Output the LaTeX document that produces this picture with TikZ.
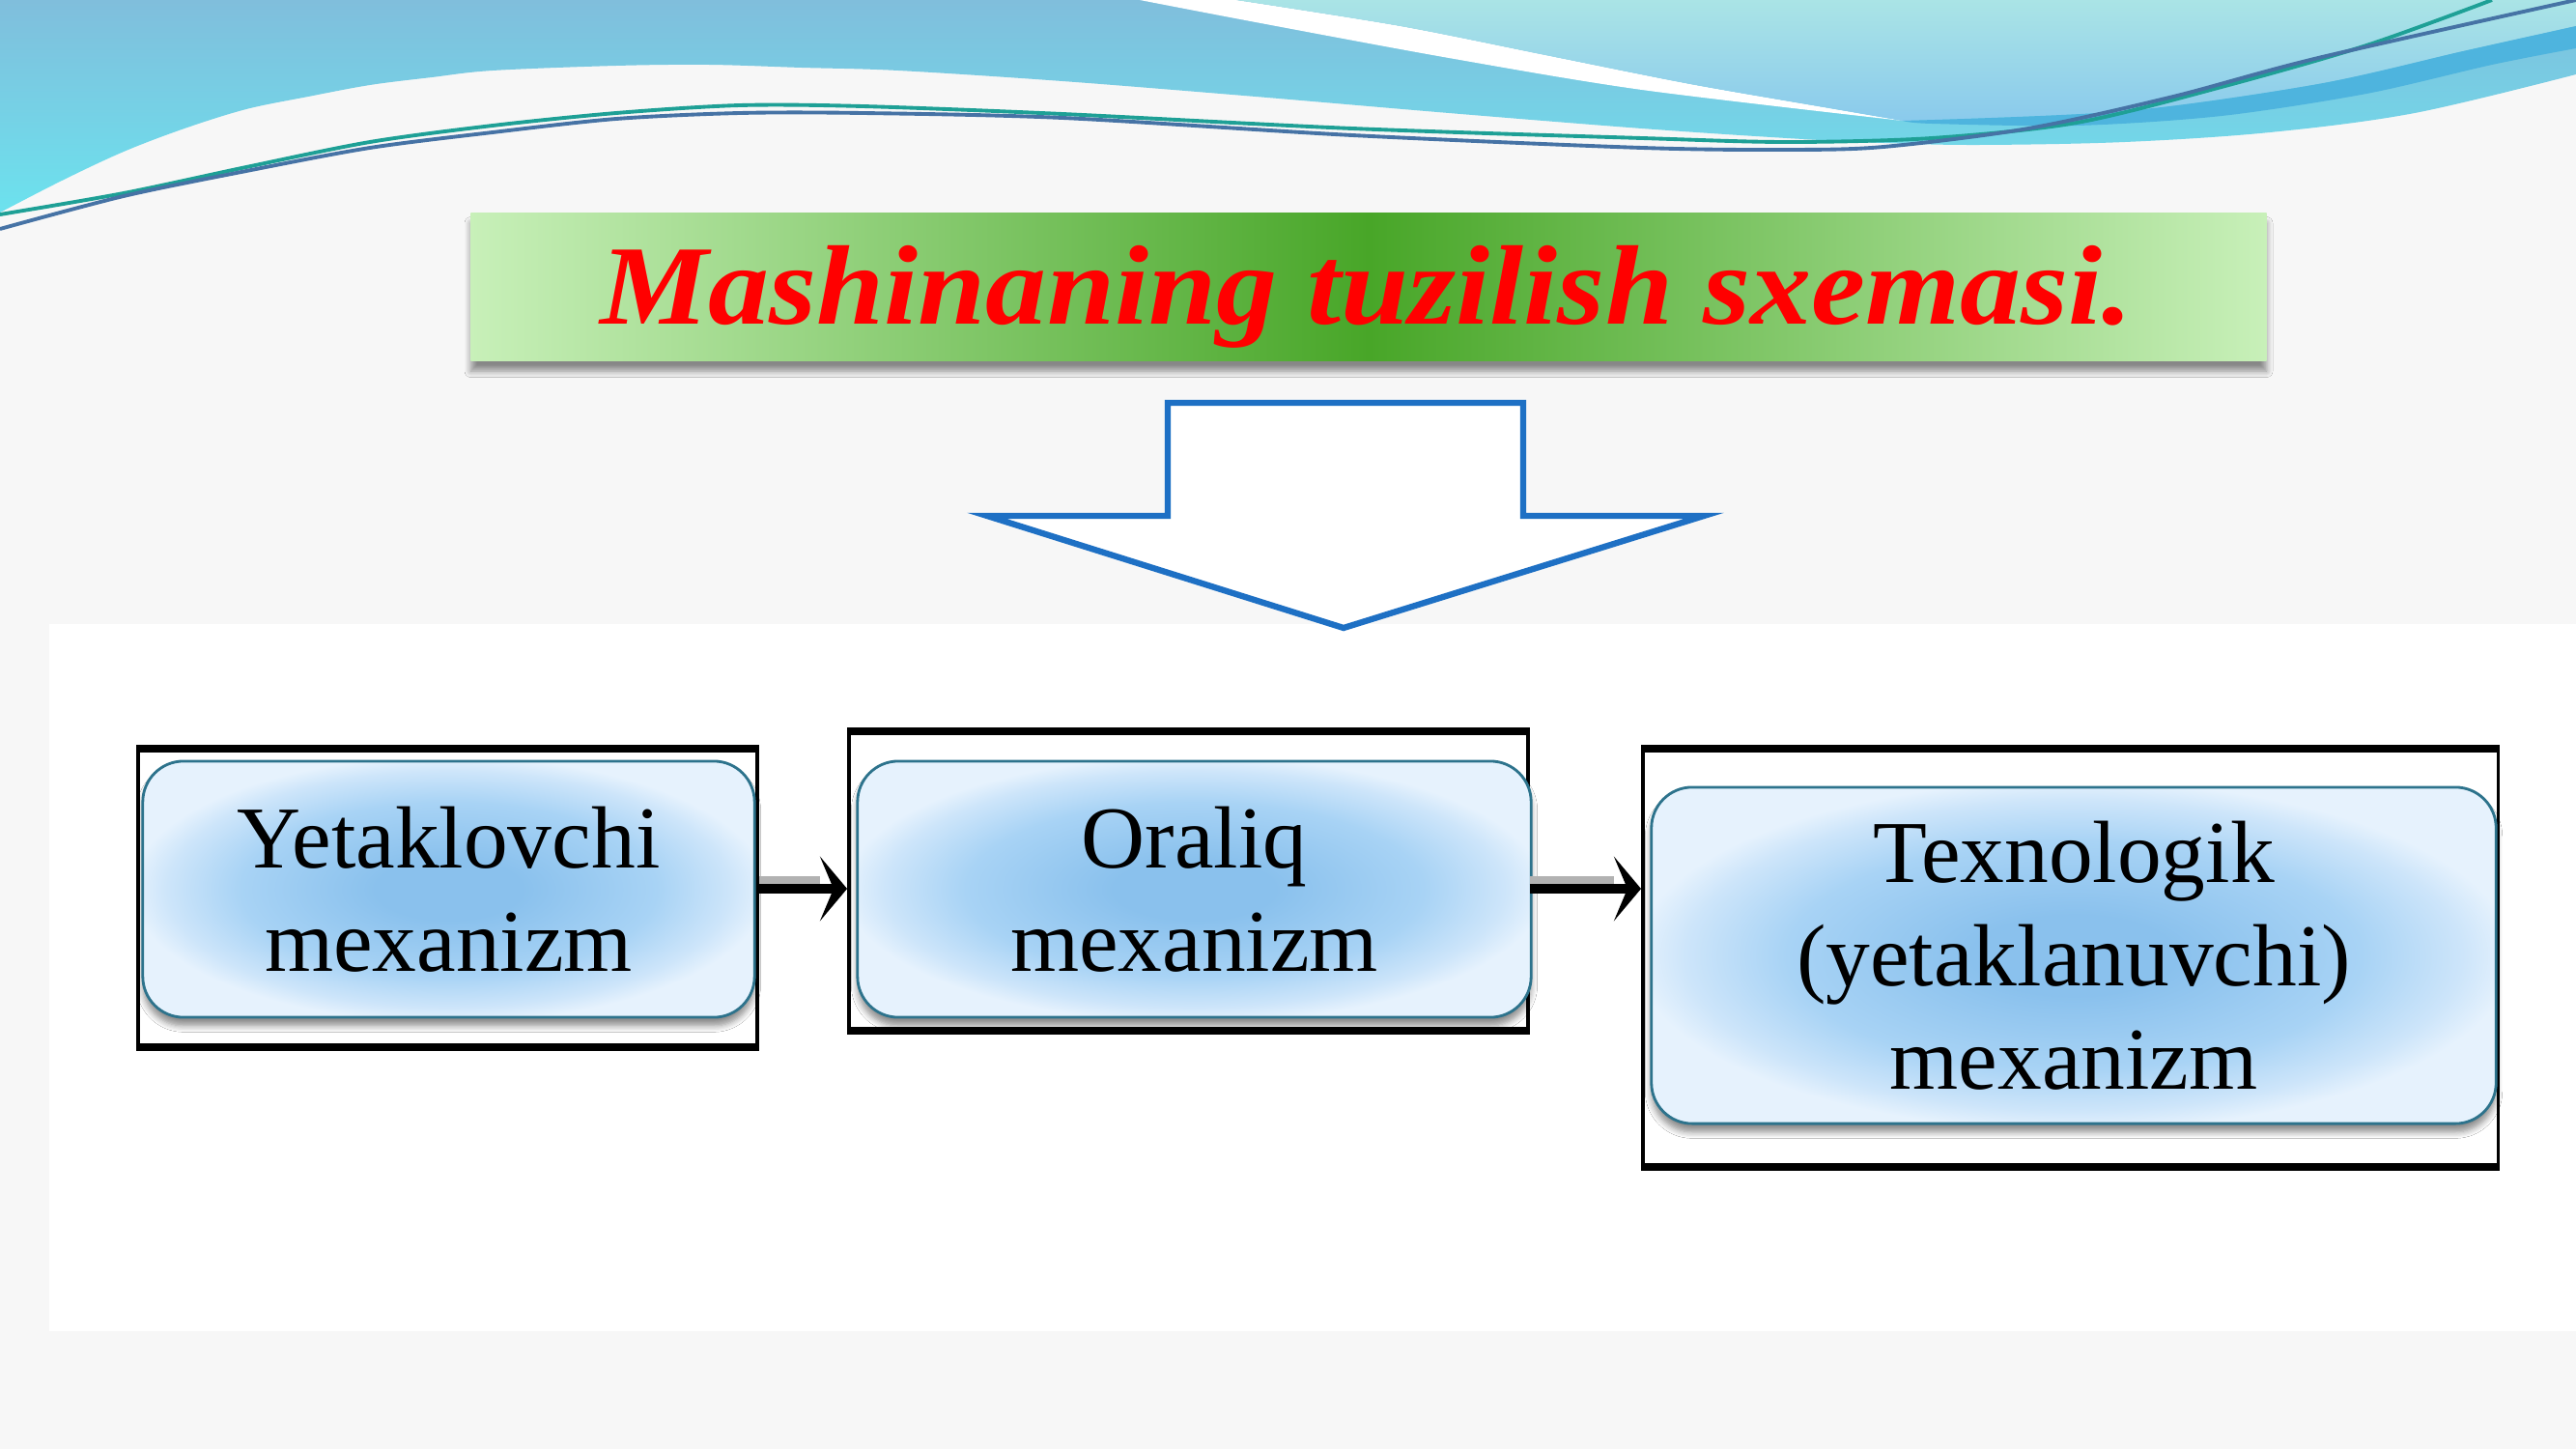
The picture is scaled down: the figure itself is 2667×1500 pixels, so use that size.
\documentclass[tikz,border=0pt]{standalone}
\usepackage{fontspec}
\setmainfont{Liberation Serif}
\usetikzlibrary{shadows.blur,arrows.meta,calc}
\definecolor{bgray}{RGB}{247,247,247}
\definecolor{wtop}{RGB}{128,190,220}
\definecolor{wbot}{RGB}{108,226,238}
\definecolor{ltop}{RGB}{170,228,230}
\definecolor{lbot}{RGB}{138,202,236}
\definecolor{dband}{RGB}{78,180,222}
\definecolor{lineA}{RGB}{30,160,150}
\definecolor{lineB}{RGB}{70,115,165}
\definecolor{gedge}{RGB}{200,240,185}
\definecolor{gmid}{RGB}{72,166,40}
\definecolor{arrowblue}{RGB}{30,112,196}
\definecolor{boxin}{RGB}{138,193,237}
\definecolor{boxmid}{RGB}{168,211,245}
\definecolor{boxlt}{RGB}{205,229,250}
\definecolor{boxout}{RGB}{230,242,253}
\definecolor{boxborder}{RGB}{45,115,140}
\definecolor{hlgray}{RGB}{178,178,178}
\pgfdeclareradialshading{boxshade}{\pgfpoint{0bp}{0bp}}{color(0bp)=(boxin); color(6bp)=(boxin); color(17bp)=(boxmid); color(23bp)=(boxlt); color(26bp)=(boxout); color(50bp)=(boxout)}
\tikzset{
  titlebox/.style={minimum width=18.58cm, minimum height=1.53cm, inner sep=0pt,
    left color=gedge, right color=gedge, middle color=gmid,
    blur shadow={shadow xshift=0pt, shadow yshift=-3pt, shadow opacity=45, shadow blur steps=8}},
  titletextstyle/.style={anchor=base, inner sep=0pt, text=red,
    font=\fontsize{32}{36}\selectfont\bfseries\itshape},
  bigarrow/.style={draw=arrowblue, line width=1.8pt, fill=white, line join=miter},
  outerbox/.style={draw=black, line width=1pt, fill=white, inner sep=0pt},
  thickedge/.style={draw=black, line width=2.4pt},
  innerbox/.style={rounded corners=12pt, draw=boxborder, line width=0.8pt,
    shading=boxshade, align=center, inner sep=0pt,
    font=\fontsize{26}{30.5}\selectfont,
    blur shadow={shadow xshift=0pt, shadow yshift=-2.5pt, shadow opacity=45, shadow blur steps=6}},
  conn/.style={draw=black, line width=2.8pt, -{Stealth[length=8pt,width=19pt,inset=4pt]}},
  connhl/.style={draw=hlgray, line width=2.2pt, shorten >=8pt}
}
\begin{document}
\begin{tikzpicture}[x=0.01cm, y=-0.01cm]
\useasboundingbox (0,0) rectangle (2667,1500);
\fill[bgray] (0,0) rectangle (2667,1500);
\fill[white] (51,646) rectangle (2667,1378);

% top waves
\shade[top color=wtop, bottom color=wbot] (0,0) -- (2667,0) -- plot[smooth, tension=0.55] coordinates {(2667,77) (2500,117) (2350,137) (2200,147) (2050,150) (1950,148) (1850,143) (1700,133) (1500,117) (1300,100) (1100,84) (930,73) (830,70) (734,67) (638,68) (510,73) (447,80) (383,88) (319,100) (255,113) (191,133) (128,157) (64,187) (0,220)} -- cycle;
\fill[white] plot[smooth] coordinates {(1180,0) (1300,23) (1500,60) (1700,93) (1970,125)} -- plot[smooth] coordinates {(1970,125) (1900,113) (1750,87) (1600,57) (1450,27) (1280,0)} -- cycle;
\shade[top color=ltop, bottom color=lbot] plot[smooth] coordinates {(1280,0) (1450,27) (1600,57) (1750,87) (1900,113) (1970,125)} -- plot[smooth] coordinates {(1970,125) (2200,115) (2400,87) (2550,53) (2667,27)} -- (2667,0) -- cycle;
\fill[dband] plot[smooth] coordinates {(1970,125) (2200,115) (2400,87) (2550,53) (2667,27)} -- plot[smooth] coordinates {(2667,50) (2580,67) (2450,97) (2300,120) (2150,130) (2000,128) (1970,125)} -- cycle;
\draw[lineA, line width=1.1pt] plot[smooth] coordinates {(0,222) (128,200) (255,173) (383,147) (510,130) (638,117) (766,109) (893,110) (1100,118) (1400,133) (1700,143) (1850,147) (2000,143) (2150,127) (2300,90) (2450,47) (2580,0)};
\draw[lineB, line width=1.1pt] plot[smooth] coordinates {(0,237) (128,203) (255,177) (383,153) (510,137) (638,123) (766,117) (893,117) (1100,122) (1400,140) (1700,153) (1850,155) (1950,152) (2100,133) (2250,100) (2400,60) (2667,0)};

% title
\node[titlebox] (title) at (1417,297) {};
\node[titletextstyle] (titletext) at (1415,335) {\scalebox{1.12}[1.04]{Mashinaning tuzilish sxemasi.}};

% big arrow
\draw[bigarrow] (1209,417) -- (1577,417) -- (1577,534) -- (1764,534) -- (1391,650) -- (1022,534) -- (1209,534) -- cycle;

% outer boxes
\node[outerbox, minimum width=6.41cm, minimum height=3.05cm] (o1) at (463.5,929.5) {};
\node[outerbox, minimum width=7.03cm, minimum height=3.06cm] (o2) at (1230.5,912) {};
\node[outerbox, minimum width=8.85cm, minimum height=4.29cm] (o3) at (2143.5,991.5) {};
\foreach \o in {o1,o2,o3}{
  \draw[thickedge] (\o.north west) -- (\o.north east);
  \draw[thickedge] (\o.south west) -- (\o.south east);
}

% inner boxes
\node[innerbox, minimum width=6.33cm, minimum height=2.65cm] (i1) at (464.5,920.5) {Yetaklovchi\\mexanizm};
\node[innerbox, minimum width=6.97cm, minimum height=2.65cm] (i2) at (1236.5,920.5) {Oraliq\\mexanizm};
\node[innerbox, minimum width=8.74cm, minimum height=3.48cm] (i3) at (2147,989) {Texnologik\\(yetaklanuvchi)\\mexanizm};

% connectors
\coordinate (yl) at (0,920);
\coordinate (yh) at (0,911);
\draw[conn] (o1.east |- yl) -- (o2.west |- yl);
\draw[conn] (o2.east |- yl) -- (o3.west |- yl);
\draw[connhl] (o1.east |- yh) -- (o2.west |- yh);
\draw[connhl] (o2.east |- yh) -- (o3.west |- yh);
\end{tikzpicture}
\end{document}
